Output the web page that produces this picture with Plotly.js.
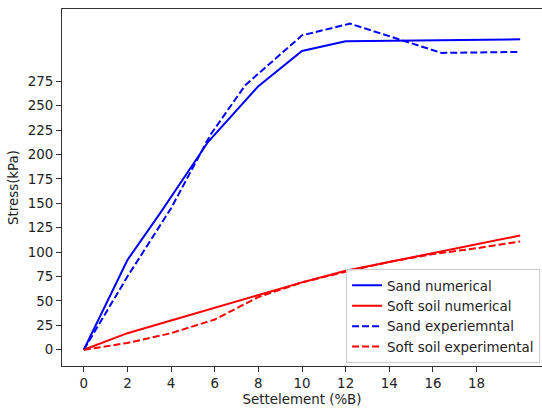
<!DOCTYPE html>
<html>
<head>
<meta charset="utf-8">
<script src="https://cdn.plot.ly/plotly-3.0.1.min.js"></script>
<style>html,body{margin:0;padding:0;background:#fff;}#chart{width:542px;height:412px;}</style>
</head>
<body>
<div id="chart"></div>
<script>
// Sand numerical
const sandNumX = [0, 2, 3.5, 5.7, 8, 10, 12, 20];
const sandNumY = [0, 92, 140, 213, 270, 306, 316, 318];
// Soft soil numerical
const softNumX = [0, 2, 4, 6, 8, 10, 12, 14, 16, 18, 20];
const softNumY = [0, 17, 30, 43, 56, 69, 81, 90, 99, 108, 117];
// Sand experimental
const sandExpX = [0, 2, 4, 5.8, 7.4, 10, 12.2, 16.4, 20];
const sandExpY = [0, 75, 145, 220, 271, 322, 334, 304, 305];
// Soft soil experimental
const softExpX = [0, 2, 4, 6, 8, 10, 12, 14, 16, 18, 20];
const softExpY = [0, 7, 17, 31, 54, 69, 80, 90, 98, 104, 111];

const xTicks = [0, 2, 4, 6, 8, 10, 12, 14, 16, 18];
const yTicks = [0, 25, 50, 75, 100, 125, 150, 175, 200, 225, 250, 275];

const font = {family: 'DejaVu Sans, sans-serif', size: 13.4, color: '#222'};

const traces = [
  {x: sandNumX, y: sandNumY, name: 'Sand numerical', mode: 'lines', line: {color: '#0000ff', width: 2}},
  {x: softNumX, y: softNumY, name: 'Soft soil numerical', mode: 'lines', line: {color: '#ff0000', width: 2}},
  {x: sandExpX, y: sandExpY, name: 'Sand experiemntal', mode: 'lines', line: {color: '#0000ff', width: 2, dash: '7px,3px'}},
  {x: softExpX, y: softExpY, name: 'Soft soil experimental', mode: 'lines', line: {color: '#ff0000', width: 2, dash: '7px,3px'}}
];

const layout = {
  width: 542, height: 412,
  margin: {l: 62, r: 0, t: 9, b: 46},
  paper_bgcolor: '#fff', plot_bgcolor: '#fff',
  font: font,
  showlegend: true,
  xaxis: {
    range: [-1, 21], tickvals: xTicks, ticktext: xTicks.map(String),
    showgrid: false, zeroline: false, showline: true, mirror: true,
    linecolor: '#333', linewidth: 1, ticks: 'outside', ticklen: 5, tickcolor: '#333',
    tickfont: font,
    title: {text: 'Settelement (%B)', font: font, standoff: 4}
  },
  yaxis: {
    range: [-16.6, 349], tickvals: yTicks, ticktext: yTicks.map(String),
    showgrid: false, zeroline: false, showline: true,
    linecolor: '#333', linewidth: 1, ticks: 'outside', ticklen: 5, tickcolor: '#333',
    tickfont: font,
    title: {text: 'Stress(kPa)', font: font, standoff: 6}
  },
  legend: {
    x: 0.996, xanchor: 'right', y: 0.008, yanchor: 'bottom',
    bgcolor: 'rgba(255,255,255,0.8)', bordercolor: '#ccc', borderwidth: 1,
    font: font, tracegroupgap: 0
  }
};

Plotly.newPlot('chart', traces, layout, {staticPlot: true, displayModeBar: false});
</script>
</body>
</html>
